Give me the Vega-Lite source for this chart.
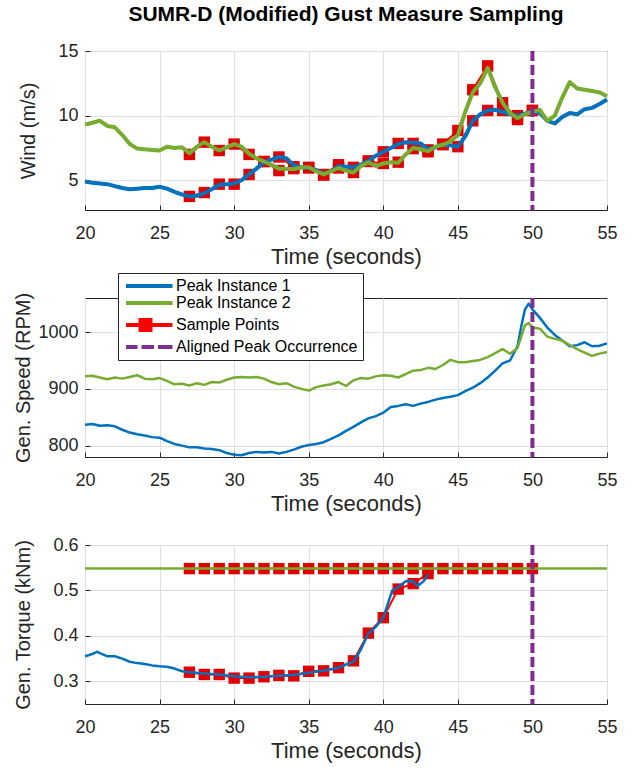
{
  "$schema": "https://vega.github.io/schema/vega-lite/v6.json",
  "padding": {"left": 12, "top": 3, "right": 5, "bottom": 5},
  "title": {"text": "SUMR-D (Modified) Gust Measure Sampling", "font": "Liberation Sans", "fontSize": 21, "fontWeight": "bold", "color": "#000000", "anchor": "middle", "frame": "group", "baseline": "bottom", "offset": -4},
  "datasets": {
    "wind": [
      {"t":20,"v":4.9,"s":"Peak Instance 1"},{"t":20.5,"v":4.8,"s":"Peak Instance 1"},{"t":21,"v":4.75,"s":"Peak Instance 1"},{"t":21.5,"v":4.7,"s":"Peak Instance 1"},{"t":22,"v":4.55,"s":"Peak Instance 1"},{"t":22.5,"v":4.4,"s":"Peak Instance 1"},{"t":23,"v":4.3,"s":"Peak Instance 1"},{"t":23.5,"v":4.35,"s":"Peak Instance 1"},{"t":24,"v":4.4,"s":"Peak Instance 1"},{"t":24.5,"v":4.4,"s":"Peak Instance 1"},{"t":25,"v":4.5,"s":"Peak Instance 1"},{"t":25.5,"v":4.35,"s":"Peak Instance 1"},{"t":26,"v":4.1,"s":"Peak Instance 1"},{"t":26.5,"v":3.9,"s":"Peak Instance 1"},{"t":27,"v":3.75,"s":"Peak Instance 1"},{"t":27.5,"v":3.8,"s":"Peak Instance 1"},{"t":28,"v":4.0,"s":"Peak Instance 1"},{"t":28.5,"v":4.3,"s":"Peak Instance 1"},{"t":29,"v":4.65,"s":"Peak Instance 1"},{"t":29.5,"v":4.7,"s":"Peak Instance 1"},{"t":30,"v":4.75,"s":"Peak Instance 1"},{"t":30.5,"v":5.0,"s":"Peak Instance 1"},{"t":31,"v":5.45,"s":"Peak Instance 1"},{"t":31.5,"v":5.9,"s":"Peak Instance 1"},{"t":32,"v":6.4,"s":"Peak Instance 1"},{"t":32.5,"v":6.6,"s":"Peak Instance 1"},{"t":33,"v":6.8,"s":"Peak Instance 1"},{"t":33.5,"v":6.7,"s":"Peak Instance 1"},{"t":34,"v":6.15,"s":"Peak Instance 1"},{"t":34.5,"v":6.0,"s":"Peak Instance 1"},{"t":35,"v":5.95,"s":"Peak Instance 1"},{"t":35.5,"v":5.8,"s":"Peak Instance 1"},{"t":36,"v":5.5,"s":"Peak Instance 1"},{"t":36.5,"v":5.7,"s":"Peak Instance 1"},{"t":37,"v":6.1,"s":"Peak Instance 1"},{"t":37.5,"v":6.05,"s":"Peak Instance 1"},{"t":38,"v":6.0,"s":"Peak Instance 1"},{"t":38.5,"v":6.2,"s":"Peak Instance 1"},{"t":39,"v":6.5,"s":"Peak Instance 1"},{"t":39.5,"v":6.9,"s":"Peak Instance 1"},{"t":40,"v":7.2,"s":"Peak Instance 1"},{"t":40.5,"v":7.5,"s":"Peak Instance 1"},{"t":41,"v":7.8,"s":"Peak Instance 1"},{"t":41.5,"v":7.95,"s":"Peak Instance 1"},{"t":42,"v":7.9,"s":"Peak Instance 1"},{"t":42.5,"v":7.85,"s":"Peak Instance 1"},{"t":43,"v":7.4,"s":"Peak Instance 1"},{"t":43.5,"v":7.55,"s":"Peak Instance 1"},{"t":44,"v":7.75,"s":"Peak Instance 1"},{"t":44.5,"v":7.7,"s":"Peak Instance 1"},{"t":45,"v":7.6,"s":"Peak Instance 1"},{"t":45.5,"v":8.4,"s":"Peak Instance 1"},{"t":46,"v":9.6,"s":"Peak Instance 1"},{"t":46.5,"v":10.1,"s":"Peak Instance 1"},{"t":47,"v":10.4,"s":"Peak Instance 1"},{"t":47.5,"v":10.45,"s":"Peak Instance 1"},{"t":48,"v":10.3,"s":"Peak Instance 1"},{"t":48.5,"v":10.1,"s":"Peak Instance 1"},{"t":49,"v":10.0,"s":"Peak Instance 1"},{"t":49.5,"v":10.15,"s":"Peak Instance 1"},{"t":50,"v":10.35,"s":"Peak Instance 1"},{"t":50.5,"v":10.2,"s":"Peak Instance 1"},{"t":51,"v":9.6,"s":"Peak Instance 1"},{"t":51.5,"v":9.4,"s":"Peak Instance 1"},{"t":52,"v":9.9,"s":"Peak Instance 1"},{"t":52.5,"v":10.2,"s":"Peak Instance 1"},{"t":53,"v":10.1,"s":"Peak Instance 1"},{"t":53.5,"v":10.5,"s":"Peak Instance 1"},{"t":54,"v":10.6,"s":"Peak Instance 1"},{"t":54.5,"v":10.9,"s":"Peak Instance 1"},{"t":55,"v":11.25,"s":"Peak Instance 1"},
      {"t":20,"v":9.3,"s":"Peak Instance 2"},{"t":20.5,"v":9.45,"s":"Peak Instance 2"},{"t":21,"v":9.6,"s":"Peak Instance 2"},{"t":21.5,"v":9.2,"s":"Peak Instance 2"},{"t":22,"v":9.1,"s":"Peak Instance 2"},{"t":22.5,"v":8.5,"s":"Peak Instance 2"},{"t":23,"v":7.8,"s":"Peak Instance 2"},{"t":23.5,"v":7.45,"s":"Peak Instance 2"},{"t":24,"v":7.4,"s":"Peak Instance 2"},{"t":24.5,"v":7.35,"s":"Peak Instance 2"},{"t":25,"v":7.3,"s":"Peak Instance 2"},{"t":25.5,"v":7.6,"s":"Peak Instance 2"},{"t":26,"v":7.5,"s":"Peak Instance 2"},{"t":26.5,"v":7.55,"s":"Peak Instance 2"},{"t":27,"v":7.1,"s":"Peak Instance 2"},{"t":27.5,"v":7.6,"s":"Peak Instance 2"},{"t":28,"v":7.95,"s":"Peak Instance 2"},{"t":28.5,"v":7.6,"s":"Peak Instance 2"},{"t":29,"v":7.3,"s":"Peak Instance 2"},{"t":29.5,"v":7.55,"s":"Peak Instance 2"},{"t":30,"v":7.8,"s":"Peak Instance 2"},{"t":30.5,"v":7.6,"s":"Peak Instance 2"},{"t":31,"v":7.05,"s":"Peak Instance 2"},{"t":31.5,"v":6.7,"s":"Peak Instance 2"},{"t":32,"v":6.45,"s":"Peak Instance 2"},{"t":32.5,"v":6.2,"s":"Peak Instance 2"},{"t":33,"v":5.9,"s":"Peak Instance 2"},{"t":33.5,"v":5.9,"s":"Peak Instance 2"},{"t":34,"v":5.85,"s":"Peak Instance 2"},{"t":34.5,"v":6.0,"s":"Peak Instance 2"},{"t":35,"v":6.0,"s":"Peak Instance 2"},{"t":35.5,"v":5.7,"s":"Peak Instance 2"},{"t":36,"v":5.45,"s":"Peak Instance 2"},{"t":36.5,"v":5.7,"s":"Peak Instance 2"},{"t":37,"v":5.95,"s":"Peak Instance 2"},{"t":37.5,"v":5.75,"s":"Peak Instance 2"},{"t":38,"v":5.6,"s":"Peak Instance 2"},{"t":38.5,"v":6.1,"s":"Peak Instance 2"},{"t":39,"v":6.4,"s":"Peak Instance 2"},{"t":39.5,"v":6.1,"s":"Peak Instance 2"},{"t":40,"v":6.3,"s":"Peak Instance 2"},{"t":40.5,"v":6.4,"s":"Peak Instance 2"},{"t":41,"v":6.35,"s":"Peak Instance 2"},{"t":41.5,"v":7.0,"s":"Peak Instance 2"},{"t":42,"v":7.5,"s":"Peak Instance 2"},{"t":42.5,"v":7.4,"s":"Peak Instance 2"},{"t":43,"v":7.25,"s":"Peak Instance 2"},{"t":43.5,"v":7.6,"s":"Peak Instance 2"},{"t":44,"v":7.75,"s":"Peak Instance 2"},{"t":44.5,"v":8.0,"s":"Peak Instance 2"},{"t":45,"v":8.5,"s":"Peak Instance 2"},{"t":45.5,"v":10.3,"s":"Peak Instance 2"},{"t":46,"v":11.8,"s":"Peak Instance 2"},{"t":46.5,"v":12.5,"s":"Peak Instance 2"},{"t":47,"v":13.7,"s":"Peak Instance 2"},{"t":47.5,"v":12.2,"s":"Peak Instance 2"},{"t":48,"v":11.0,"s":"Peak Instance 2"},{"t":48.5,"v":10.2,"s":"Peak Instance 2"},{"t":49,"v":9.8,"s":"Peak Instance 2"},{"t":49.5,"v":10.1,"s":"Peak Instance 2"},{"t":50,"v":10.3,"s":"Peak Instance 2"},{"t":50.5,"v":10.45,"s":"Peak Instance 2"},{"t":51,"v":9.6,"s":"Peak Instance 2"},{"t":51.5,"v":10.0,"s":"Peak Instance 2"},{"t":52,"v":11.4,"s":"Peak Instance 2"},{"t":52.5,"v":12.6,"s":"Peak Instance 2"},{"t":53,"v":12.1,"s":"Peak Instance 2"},{"t":53.5,"v":12.0,"s":"Peak Instance 2"},{"t":54,"v":11.9,"s":"Peak Instance 2"},{"t":54.5,"v":11.8,"s":"Peak Instance 2"},{"t":55,"v":11.5,"s":"Peak Instance 2"}
    ],
    "windSamples": [
      {"t":27,"v":3.75,"s":"Peak Instance 1"},{"t":28,"v":4.05,"s":"Peak Instance 1"},{"t":29,"v":4.7,"s":"Peak Instance 1"},{"t":30,"v":4.7,"s":"Peak Instance 1"},{"t":31,"v":5.45,"s":"Peak Instance 1"},{"t":32,"v":6.45,"s":"Peak Instance 1"},{"t":33,"v":6.8,"s":"Peak Instance 1"},{"t":34,"v":6.05,"s":"Peak Instance 1"},{"t":35,"v":5.95,"s":"Peak Instance 1"},{"t":36,"v":5.45,"s":"Peak Instance 1"},{"t":37,"v":6.2,"s":"Peak Instance 1"},{"t":38,"v":6.0,"s":"Peak Instance 1"},{"t":39,"v":6.5,"s":"Peak Instance 1"},{"t":40,"v":7.2,"s":"Peak Instance 1"},{"t":41,"v":7.85,"s":"Peak Instance 1"},{"t":42,"v":7.85,"s":"Peak Instance 1"},{"t":43,"v":7.35,"s":"Peak Instance 1"},{"t":44,"v":7.75,"s":"Peak Instance 1"},{"t":45,"v":7.6,"s":"Peak Instance 1"},{"t":46,"v":9.6,"s":"Peak Instance 1"},{"t":47,"v":10.4,"s":"Peak Instance 1"},{"t":48,"v":10.4,"s":"Peak Instance 1"},{"t":49,"v":10.0,"s":"Peak Instance 1"},{"t":50,"v":10.4,"s":"Peak Instance 1"},
      {"t":27,"v":7.0,"s":"Peak Instance 2"},{"t":28,"v":7.95,"s":"Peak Instance 2"},{"t":29,"v":7.3,"s":"Peak Instance 2"},{"t":30,"v":7.8,"s":"Peak Instance 2"},{"t":31,"v":7.0,"s":"Peak Instance 2"},{"t":32,"v":6.45,"s":"Peak Instance 2"},{"t":33,"v":5.75,"s":"Peak Instance 2"},{"t":34,"v":5.9,"s":"Peak Instance 2"},{"t":35,"v":6.0,"s":"Peak Instance 2"},{"t":36,"v":5.4,"s":"Peak Instance 2"},{"t":37,"v":5.95,"s":"Peak Instance 2"},{"t":38,"v":5.6,"s":"Peak Instance 2"},{"t":39,"v":6.45,"s":"Peak Instance 2"},{"t":40,"v":6.3,"s":"Peak Instance 2"},{"t":41,"v":6.4,"s":"Peak Instance 2"},{"t":42,"v":7.45,"s":"Peak Instance 2"},{"t":43,"v":7.2,"s":"Peak Instance 2"},{"t":44,"v":7.8,"s":"Peak Instance 2"},{"t":45,"v":8.85,"s":"Peak Instance 2"},{"t":46,"v":12.0,"s":"Peak Instance 2"},{"t":47,"v":13.85,"s":"Peak Instance 2"},{"t":48,"v":11.0,"s":"Peak Instance 2"},{"t":49,"v":9.7,"s":"Peak Instance 2"},{"t":50,"v":10.4,"s":"Peak Instance 2"}
    ],
    "speed": [
      {"t":20,"v":837,"s":"Peak Instance 1"},{"t":20.5,"v":838,"s":"Peak Instance 1"},{"t":21,"v":835,"s":"Peak Instance 1"},{"t":21.5,"v":836,"s":"Peak Instance 1"},{"t":22,"v":834,"s":"Peak Instance 1"},{"t":22.5,"v":828,"s":"Peak Instance 1"},{"t":23,"v":823,"s":"Peak Instance 1"},{"t":23.5,"v":820,"s":"Peak Instance 1"},{"t":24,"v":818,"s":"Peak Instance 1"},{"t":24.5,"v":815,"s":"Peak Instance 1"},{"t":25,"v":814,"s":"Peak Instance 1"},{"t":25.5,"v":808,"s":"Peak Instance 1"},{"t":26,"v":803,"s":"Peak Instance 1"},{"t":26.5,"v":800,"s":"Peak Instance 1"},{"t":27,"v":797,"s":"Peak Instance 1"},{"t":27.5,"v":797,"s":"Peak Instance 1"},{"t":28,"v":795,"s":"Peak Instance 1"},{"t":28.5,"v":794,"s":"Peak Instance 1"},{"t":29,"v":792,"s":"Peak Instance 1"},{"t":29.5,"v":787,"s":"Peak Instance 1"},{"t":30,"v":784,"s":"Peak Instance 1"},{"t":30.5,"v":783,"s":"Peak Instance 1"},{"t":31,"v":787,"s":"Peak Instance 1"},{"t":31.5,"v":789,"s":"Peak Instance 1"},{"t":32,"v":788,"s":"Peak Instance 1"},{"t":32.5,"v":789,"s":"Peak Instance 1"},{"t":33,"v":786,"s":"Peak Instance 1"},{"t":33.5,"v":789,"s":"Peak Instance 1"},{"t":34,"v":793,"s":"Peak Instance 1"},{"t":34.5,"v":798,"s":"Peak Instance 1"},{"t":35,"v":801,"s":"Peak Instance 1"},{"t":35.5,"v":803,"s":"Peak Instance 1"},{"t":36,"v":806,"s":"Peak Instance 1"},{"t":36.5,"v":812,"s":"Peak Instance 1"},{"t":37,"v":818,"s":"Peak Instance 1"},{"t":37.5,"v":826,"s":"Peak Instance 1"},{"t":38,"v":833,"s":"Peak Instance 1"},{"t":38.5,"v":841,"s":"Peak Instance 1"},{"t":39,"v":848,"s":"Peak Instance 1"},{"t":39.5,"v":852,"s":"Peak Instance 1"},{"t":40,"v":858,"s":"Peak Instance 1"},{"t":40.5,"v":868,"s":"Peak Instance 1"},{"t":41,"v":870,"s":"Peak Instance 1"},{"t":41.5,"v":873,"s":"Peak Instance 1"},{"t":42,"v":870,"s":"Peak Instance 1"},{"t":42.5,"v":874,"s":"Peak Instance 1"},{"t":43,"v":877,"s":"Peak Instance 1"},{"t":43.5,"v":881,"s":"Peak Instance 1"},{"t":44,"v":884,"s":"Peak Instance 1"},{"t":44.5,"v":886,"s":"Peak Instance 1"},{"t":45,"v":889,"s":"Peak Instance 1"},{"t":45.5,"v":896,"s":"Peak Instance 1"},{"t":46,"v":902,"s":"Peak Instance 1"},{"t":46.5,"v":910,"s":"Peak Instance 1"},{"t":47,"v":920,"s":"Peak Instance 1"},{"t":47.5,"v":932,"s":"Peak Instance 1"},{"t":48,"v":945,"s":"Peak Instance 1"},{"t":48.5,"v":950,"s":"Peak Instance 1"},{"t":49,"v":975,"s":"Peak Instance 1"},{"t":49.25,"v":1010,"s":"Peak Instance 1"},{"t":49.5,"v":1040,"s":"Peak Instance 1"},{"t":49.75,"v":1050,"s":"Peak Instance 1"},{"t":50,"v":1040,"s":"Peak Instance 1"},{"t":50.5,"v":1025,"s":"Peak Instance 1"},{"t":51,"v":1008,"s":"Peak Instance 1"},{"t":51.5,"v":995,"s":"Peak Instance 1"},{"t":52,"v":985,"s":"Peak Instance 1"},{"t":52.5,"v":975,"s":"Peak Instance 1"},{"t":53,"v":977,"s":"Peak Instance 1"},{"t":53.5,"v":982,"s":"Peak Instance 1"},{"t":54,"v":975,"s":"Peak Instance 1"},{"t":54.5,"v":976,"s":"Peak Instance 1"},{"t":55,"v":980,"s":"Peak Instance 1"},
      {"t":20,"v":922,"s":"Peak Instance 2"},{"t":20.5,"v":923,"s":"Peak Instance 2"},{"t":21,"v":920,"s":"Peak Instance 2"},{"t":21.5,"v":917,"s":"Peak Instance 2"},{"t":22,"v":920,"s":"Peak Instance 2"},{"t":22.5,"v":918,"s":"Peak Instance 2"},{"t":23,"v":921,"s":"Peak Instance 2"},{"t":23.5,"v":924,"s":"Peak Instance 2"},{"t":24,"v":918,"s":"Peak Instance 2"},{"t":24.5,"v":917,"s":"Peak Instance 2"},{"t":25,"v":919,"s":"Peak Instance 2"},{"t":25.5,"v":914,"s":"Peak Instance 2"},{"t":26,"v":908,"s":"Peak Instance 2"},{"t":26.5,"v":909,"s":"Peak Instance 2"},{"t":27,"v":906,"s":"Peak Instance 2"},{"t":27.5,"v":910,"s":"Peak Instance 2"},{"t":28,"v":907,"s":"Peak Instance 2"},{"t":28.5,"v":912,"s":"Peak Instance 2"},{"t":29,"v":911,"s":"Peak Instance 2"},{"t":29.5,"v":916,"s":"Peak Instance 2"},{"t":30,"v":920,"s":"Peak Instance 2"},{"t":30.5,"v":921,"s":"Peak Instance 2"},{"t":31,"v":920,"s":"Peak Instance 2"},{"t":31.5,"v":921,"s":"Peak Instance 2"},{"t":32,"v":918,"s":"Peak Instance 2"},{"t":32.5,"v":912,"s":"Peak Instance 2"},{"t":33,"v":908,"s":"Peak Instance 2"},{"t":33.5,"v":910,"s":"Peak Instance 2"},{"t":34,"v":904,"s":"Peak Instance 2"},{"t":34.5,"v":900,"s":"Peak Instance 2"},{"t":35,"v":897,"s":"Peak Instance 2"},{"t":35.5,"v":903,"s":"Peak Instance 2"},{"t":36,"v":906,"s":"Peak Instance 2"},{"t":36.5,"v":908,"s":"Peak Instance 2"},{"t":37,"v":912,"s":"Peak Instance 2"},{"t":37.5,"v":905,"s":"Peak Instance 2"},{"t":38,"v":915,"s":"Peak Instance 2"},{"t":38.5,"v":919,"s":"Peak Instance 2"},{"t":39,"v":918,"s":"Peak Instance 2"},{"t":39.5,"v":922,"s":"Peak Instance 2"},{"t":40,"v":924,"s":"Peak Instance 2"},{"t":40.5,"v":923,"s":"Peak Instance 2"},{"t":41,"v":920,"s":"Peak Instance 2"},{"t":41.5,"v":926,"s":"Peak Instance 2"},{"t":42,"v":932,"s":"Peak Instance 2"},{"t":42.5,"v":933,"s":"Peak Instance 2"},{"t":43,"v":937,"s":"Peak Instance 2"},{"t":43.5,"v":935,"s":"Peak Instance 2"},{"t":44,"v":942,"s":"Peak Instance 2"},{"t":44.5,"v":951,"s":"Peak Instance 2"},{"t":45,"v":947,"s":"Peak Instance 2"},{"t":45.5,"v":947,"s":"Peak Instance 2"},{"t":46,"v":949,"s":"Peak Instance 2"},{"t":46.5,"v":951,"s":"Peak Instance 2"},{"t":47,"v":956,"s":"Peak Instance 2"},{"t":47.5,"v":963,"s":"Peak Instance 2"},{"t":48,"v":970,"s":"Peak Instance 2"},{"t":48.5,"v":962,"s":"Peak Instance 2"},{"t":49,"v":972,"s":"Peak Instance 2"},{"t":49.5,"v":1012,"s":"Peak Instance 2"},{"t":49.75,"v":1016,"s":"Peak Instance 2"},{"t":50,"v":1008,"s":"Peak Instance 2"},{"t":50.5,"v":1006,"s":"Peak Instance 2"},{"t":51,"v":992,"s":"Peak Instance 2"},{"t":51.5,"v":988,"s":"Peak Instance 2"},{"t":52,"v":985,"s":"Peak Instance 2"},{"t":52.5,"v":977,"s":"Peak Instance 2"},{"t":53,"v":970,"s":"Peak Instance 2"},{"t":53.5,"v":964,"s":"Peak Instance 2"},{"t":54,"v":958,"s":"Peak Instance 2"},{"t":54.5,"v":962,"s":"Peak Instance 2"},{"t":55,"v":965,"s":"Peak Instance 2"}
    ],
    "torque": [
      {"t":20,"v":0.355,"s":"Peak Instance 1"},{"t":20.5,"v":0.36,"s":"Peak Instance 1"},{"t":20.8,"v":0.365,"s":"Peak Instance 1"},{"t":21,"v":0.362,"s":"Peak Instance 1"},{"t":21.5,"v":0.355,"s":"Peak Instance 1"},{"t":22,"v":0.355,"s":"Peak Instance 1"},{"t":22.5,"v":0.35,"s":"Peak Instance 1"},{"t":23,"v":0.343,"s":"Peak Instance 1"},{"t":23.5,"v":0.34,"s":"Peak Instance 1"},{"t":24,"v":0.338,"s":"Peak Instance 1"},{"t":24.5,"v":0.335,"s":"Peak Instance 1"},{"t":25,"v":0.333,"s":"Peak Instance 1"},{"t":25.5,"v":0.332,"s":"Peak Instance 1"},{"t":26,"v":0.328,"s":"Peak Instance 1"},{"t":26.5,"v":0.322,"s":"Peak Instance 1"},{"t":27,"v":0.32,"s":"Peak Instance 1"},{"t":28,"v":0.317,"s":"Peak Instance 1"},{"t":29,"v":0.315,"s":"Peak Instance 1"},{"t":30,"v":0.311,"s":"Peak Instance 1"},{"t":31,"v":0.309,"s":"Peak Instance 1"},{"t":32,"v":0.31,"s":"Peak Instance 1"},{"t":33,"v":0.312,"s":"Peak Instance 1"},{"t":34,"v":0.314,"s":"Peak Instance 1"},{"t":35,"v":0.319,"s":"Peak Instance 1"},{"t":36,"v":0.323,"s":"Peak Instance 1"},{"t":37,"v":0.33,"s":"Peak Instance 1"},{"t":38,"v":0.343,"s":"Peak Instance 1"},{"t":38.5,"v":0.37,"s":"Peak Instance 1"},{"t":39,"v":0.405,"s":"Peak Instance 1"},{"t":39.5,"v":0.42,"s":"Peak Instance 1"},{"t":40,"v":0.44,"s":"Peak Instance 1"},{"t":40.3,"v":0.47,"s":"Peak Instance 1"},{"t":40.6,"v":0.5,"s":"Peak Instance 1"},{"t":41,"v":0.507,"s":"Peak Instance 1"},{"t":41.5,"v":0.52,"s":"Peak Instance 1"},{"t":42,"v":0.52,"s":"Peak Instance 1"},{"t":42.3,"v":0.51,"s":"Peak Instance 1"},{"t":42.7,"v":0.52,"s":"Peak Instance 1"},{"t":43,"v":0.535,"s":"Peak Instance 1"},
      {"t":20,"v":0.548,"s":"Peak Instance 2"},{"t":30,"v":0.548,"s":"Peak Instance 2"},{"t":40,"v":0.548,"s":"Peak Instance 2"},{"t":50,"v":0.548,"s":"Peak Instance 2"},{"t":55,"v":0.548,"s":"Peak Instance 2"}
    ],
    "torqueSamples": [
      {"t":27,"v":0.32,"s":"Peak Instance 1"},{"t":28,"v":0.315,"s":"Peak Instance 1"},{"t":29,"v":0.315,"s":"Peak Instance 1"},{"t":30,"v":0.307,"s":"Peak Instance 1"},{"t":31,"v":0.307,"s":"Peak Instance 1"},{"t":32,"v":0.31,"s":"Peak Instance 1"},{"t":33,"v":0.313,"s":"Peak Instance 1"},{"t":34,"v":0.312,"s":"Peak Instance 1"},{"t":35,"v":0.322,"s":"Peak Instance 1"},{"t":36,"v":0.323,"s":"Peak Instance 1"},{"t":37,"v":0.33,"s":"Peak Instance 1"},{"t":38,"v":0.345,"s":"Peak Instance 1"},{"t":39,"v":0.406,"s":"Peak Instance 1"},{"t":40,"v":0.44,"s":"Peak Instance 1"},{"t":41,"v":0.503,"s":"Peak Instance 1"},{"t":42,"v":0.515,"s":"Peak Instance 1"},{"t":43,"v":0.537,"s":"Peak Instance 1"},
      {"t":27,"v":0.548,"s":"Peak Instance 2"},{"t":28,"v":0.548,"s":"Peak Instance 2"},{"t":29,"v":0.548,"s":"Peak Instance 2"},{"t":30,"v":0.548,"s":"Peak Instance 2"},{"t":31,"v":0.548,"s":"Peak Instance 2"},{"t":32,"v":0.548,"s":"Peak Instance 2"},{"t":33,"v":0.548,"s":"Peak Instance 2"},{"t":34,"v":0.548,"s":"Peak Instance 2"},{"t":35,"v":0.548,"s":"Peak Instance 2"},{"t":36,"v":0.548,"s":"Peak Instance 2"},{"t":37,"v":0.548,"s":"Peak Instance 2"},{"t":38,"v":0.548,"s":"Peak Instance 2"},{"t":39,"v":0.548,"s":"Peak Instance 2"},{"t":40,"v":0.548,"s":"Peak Instance 2"},{"t":41,"v":0.548,"s":"Peak Instance 2"},{"t":42,"v":0.548,"s":"Peak Instance 2"},{"t":43,"v":0.548,"s":"Peak Instance 2"},{"t":44,"v":0.548,"s":"Peak Instance 2"},{"t":45,"v":0.548,"s":"Peak Instance 2"},{"t":46,"v":0.548,"s":"Peak Instance 2"},{"t":47,"v":0.548,"s":"Peak Instance 2"},{"t":48,"v":0.548,"s":"Peak Instance 2"},{"t":49,"v":0.548,"s":"Peak Instance 2"},{"t":50,"v":0.548,"s":"Peak Instance 2"}
    ],
    "peak": [{"t": 50}]
  },
  "spacing": 88,
  "bounds": "flush",
  "vconcat": [
    {
      "width": 522, "height": 159,
      "encoding": {
        "x": {"field": "t", "type": "quantitative", "scale": {"domain": [20, 55], "nice": false, "zero": false}, "axis": {"values": [20, 25, 30, 35, 40, 45, 50, 55], "title": "Time (seconds)"}}
      },
      "layer": [
        {"data": {"name": "windSamples"}, "mark": {"type": "line", "color": "#FF0000", "strokeWidth": 2}, "encoding": {"y": {"field": "v", "type": "quantitative", "scale": {"domain": [2.7, 15], "nice": false, "zero": false}, "axis": {"values": [5, 10, 15], "title": "Wind (m/s)", "titleX": -57, "titleY": 79.5, "titleAlign": "center", "titleBaseline": "middle", "titleAngle": -90}}, "detail": {"field": "s"}}},
        {"data": {"name": "windSamples"}, "mark": {"type": "point", "shape": "square", "filled": true, "color": "#E00000", "size": 130, "opacity": 1}, "encoding": {"y": {"field": "v", "type": "quantitative", "scale": {"domain": [2.7, 15], "nice": false, "zero": false}}}},
        {"data": {"name": "wind"}, "transform": [{"filter": "datum.s === 'Peak Instance 1'"}], "mark": {"type": "line", "color": "#0072BD", "strokeWidth": 4, "strokeJoin": "round"}, "encoding": {"y": {"field": "v", "type": "quantitative", "scale": {"domain": [2.7, 15], "nice": false, "zero": false}}}},
        {"data": {"name": "wind"}, "transform": [{"filter": "datum.s === 'Peak Instance 2'"}], "mark": {"type": "line", "color": "#77AC30", "strokeWidth": 4, "strokeJoin": "round"}, "encoding": {"y": {"field": "v", "type": "quantitative", "scale": {"domain": [2.7, 15], "nice": false, "zero": false}}}},
        {"data": {"name": "peak"}, "mark": {"type": "rule", "color": "#7E2F8E", "strokeWidth": 4, "strokeDash": [10, 4]}, "encoding": {}}
      ]
    },
    {
      "width": 522, "height": 159,
      "encoding": {
        "x": {"field": "t", "type": "quantitative", "scale": {"domain": [20, 55], "nice": false, "zero": false}, "axis": {"values": [20, 25, 30, 35, 40, 45, 50, 55], "title": "Time (seconds)"}}
      },
      "layer": [
        {"data": {"name": "speed"}, "mark": {"type": "line", "strokeWidth": 2.5, "strokeJoin": "round"},
         "encoding": {
           "y": {"field": "v", "type": "quantitative", "scale": {"domain": [780, 1060], "nice": false, "zero": false}, "axis": {"values": [800, 900, 1000], "format": "d", "title": "Gen. Speed (RPM)", "titleX": -62, "titleY": 79.5, "titleAlign": "center", "titleBaseline": "middle", "titleAngle": -90}},
           "color": {"field": "s", "type": "nominal", "scale": {"domain": ["Peak Instance 1", "Peak Instance 2", "Sample Points", "Aligned Peak Occurrence"], "range": ["#0072BD", "#77AC30", "#FF0000", "#7E2F8E"]},
             "legend": {"orient": "none", "legendX": 33, "legendY": 222, "title": null, "strokeColor": "#262626", "fillColor": "#FFFFFF", "padding": 5, "rowPadding": 1, "labelFont": "Liberation Sans", "labelFontSize": 16, "labelColor": "#000000", "labelOffset": 37, "labelLimit": 400, "symbolType": "stroke", "symbolSize": 100, "symbolStrokeWidth": 4, "symbolOpacity": 1,
               "encode": {"symbols": {"update": {
                 "shape": {"signal": "datum.value === 'Sample Points' ? 'M-1,0H8.3M1.9,-1H3.9V1H1.9Z' : datum.value === 'Aligned Peak Occurrence' ? 'M-1,0H1.3M2.1,0H4.6M5.4,0H8.3' : 'M-1,0H8.3'"},
                 "fill": {"signal": "datum.value === 'Sample Points' ? '#FF0000' : 'transparent'"}
               }}}}}
         }},
        {"data": {"name": "peak"}, "mark": {"type": "rule", "color": "#7E2F8E", "strokeWidth": 4, "strokeDash": [10, 4]}, "encoding": {}}
      ]
    },
    {
      "width": 522, "height": 159,
      "encoding": {
        "x": {"field": "t", "type": "quantitative", "scale": {"domain": [20, 55], "nice": false, "zero": false}, "axis": {"values": [20, 25, 30, 35, 40, 45, 50, 55], "title": "Time (seconds)"}}
      },
      "layer": [
        {"data": {"name": "torqueSamples"}, "mark": {"type": "line", "color": "#FF0000", "strokeWidth": 2}, "encoding": {"y": {"field": "v", "type": "quantitative", "scale": {"domain": [0.25, 0.6], "nice": false, "zero": false}, "axis": {"values": [0.3, 0.4, 0.5, 0.6], "format": ".1f", "title": "Gen. Torque (kNm)", "titleX": -62, "titleY": 79.5, "titleAlign": "center", "titleBaseline": "middle", "titleAngle": -90}}, "detail": {"field": "s"}}},
        {"data": {"name": "torqueSamples"}, "mark": {"type": "point", "shape": "square", "filled": true, "color": "#E00000", "size": 130, "opacity": 1}, "encoding": {"y": {"field": "v", "type": "quantitative", "scale": {"domain": [0.25, 0.6], "nice": false, "zero": false}}}},
        {"data": {"name": "torque"}, "transform": [{"filter": "datum.s === 'Peak Instance 1'"}], "mark": {"type": "line", "color": "#0072BD", "strokeWidth": 2.5, "strokeJoin": "round"}, "encoding": {"y": {"field": "v", "type": "quantitative", "scale": {"domain": [0.25, 0.6], "nice": false, "zero": false}}}},
        {"data": {"name": "torque"}, "transform": [{"filter": "datum.s === 'Peak Instance 2'"}], "mark": {"type": "line", "color": "#77AC30", "strokeWidth": 2.5}, "encoding": {"y": {"field": "v", "type": "quantitative", "scale": {"domain": [0.25, 0.6], "nice": false, "zero": false}}}},
        {"data": {"name": "peak"}, "mark": {"type": "rule", "color": "#7E2F8E", "strokeWidth": 4, "strokeDash": [10, 4]}, "encoding": {}}
      ]
    }
  ],
  "config": {
    "font": "Liberation Sans",
    "view": {"stroke": "#262626", "strokeWidth": 1},
    "axis": {"domain": false, "ticks": true, "tickSize": -5, "tickColor": "#262626", "tickWidth": 1, "grid": true, "gridColor": "#DFDFDF", "gridWidth": 1, "labelFont": "Liberation Sans", "labelFontSize": 18, "labelColor": "#262626", "titleFont": "Liberation Sans", "titleFontSize": 20, "titleFontWeight": "normal", "titleColor": "#262626"},
    "axisX": {"labelPadding": 19, "titlePadding": 4, "labelFlush": false, "titleFontSize": 22},
    "axisY": {"labelPadding": 12}
  }
}
